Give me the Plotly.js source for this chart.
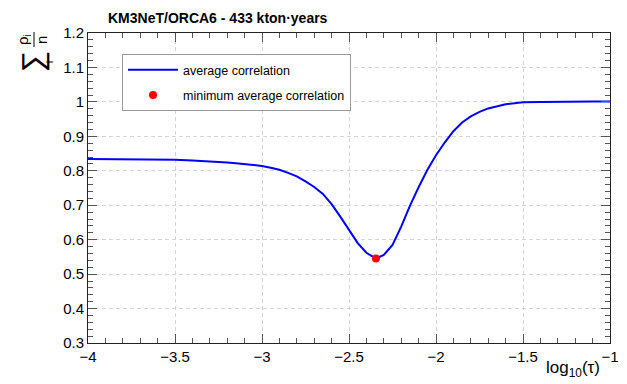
<!DOCTYPE html>
<html>
<head>
<meta charset="utf-8">
<script src="https://cdn.plot.ly/plotly-3.0.1.min.js"></script>
<style>html,body{margin:0;padding:0;background:#fff;}#chart{width:627px;height:384px;}</style>
</head>
<body>
<div id="chart"></div>
<script>
// data
const logTau = [-4.0, -3.9, -3.8, -3.7, -3.6, -3.5, -3.4, -3.35, -3.3, -3.25, -3.2, -3.15, -3.1, -3.05, -3.0, -2.95, -2.9, -2.85, -2.8, -2.75, -2.7, -2.65, -2.6, -2.55, -2.5, -2.45, -2.4, -2.345, -2.3, -2.25, -2.2, -2.15, -2.1, -2.05, -2.0, -1.95, -1.9, -1.85, -1.8, -1.75, -1.7, -1.65, -1.6, -1.55, -1.5, -1.4, -1.3, -1.2, -1.1, -1.0];
const avgCorr = [0.834, 0.834, 0.833, 0.833, 0.832, 0.832, 0.830, 0.829, 0.828, 0.826, 0.824, 0.822, 0.820, 0.817, 0.814, 0.809, 0.803, 0.794, 0.784, 0.769, 0.753, 0.733, 0.703, 0.667, 0.627, 0.590, 0.562, 0.545, 0.556, 0.585, 0.638, 0.698, 0.752, 0.802, 0.845, 0.882, 0.915, 0.940, 0.958, 0.971, 0.981, 0.988, 0.993, 0.996, 0.999, 1.000, 1.001, 1.001, 1.001, 1.001];
const minX = [-2.345];
const minY = [0.545];
const seriesNames = ["average correlation", "minimum average correlation"];
const titleText = "KM3NeT/ORCA6 - 433 kton·years";
const xTitle = "log<sub>10</sub>(τ)";

const W = 627, H = 384;
const M = {l: 88, r: 17, t: 33, b: 41};
const PW = W - M.l - M.r, PH = H - M.t - M.b;
const px = x => (x - M.l) / PW;
const py = y => (H - M.b - y) / PH;
const FONT = "Liberation Sans, Arial, Helvetica, sans-serif";

const traces = [
  {x: logTau, y: avgCorr, mode: "lines", name: seriesNames[0], legendgroup: "a",
   line: {color: "#0000ff", width: 2}},
  {x: minX, y: minY, mode: "markers", name: seriesNames[1], legendgroup: "b",
   marker: {color: "#ff0000", size: 8}}
];

const axisCommon = {
  showline: true, linecolor: "#222", linewidth: 1, mirror: "allticks",
  ticks: "inside", ticklen: 9, tickcolor: "#555", tickwidth: 1,
  showgrid: true, gridcolor: "#d4d4d4", griddash: "4px,3px", gridwidth: 1,
  zeroline: false, tickfont: {family: FONT, size: 15, color: "#000"}
};

const layout = {
  width: W, height: H, margin: M,
  paper_bgcolor: "#fff", plot_bgcolor: "#fff",
  showlegend: true,
  xaxis: Object.assign({}, axisCommon, {range: [-4, -1], dtick: 0.5, tick0: -4,
    minor: {dtick: 0.1, ticks: "inside", ticklen: 5, tickcolor: "#555", showgrid: false}}),
  yaxis: Object.assign({}, axisCommon, {range: [0.3, 1.2], dtick: 0.1, tick0: 0.3,
    minor: {dtick: 0.02, ticks: "inside", ticklen: 5, tickcolor: "#555", showgrid: false}}),
  legend: {x: px(122), y: py(54), xanchor: "left", yanchor: "top",
    bordercolor: "#999", borderwidth: 1, bgcolor: "#fff", itemwidth: 50, entrywidth: 225,
    font: {family: FONT, size: 12.5, color: "#000"}, traceorder: "grouped", tracegroupgap: 6},
  annotations: [
    {text: "<b>" + titleText + "</b>", xref: "paper", yref: "paper", x: px(106), y: py(18),
     xanchor: "left", yanchor: "middle", showarrow: false, font: {family: FONT, size: 14, color: "#000"}},
    {text: xTitle, xref: "paper", yref: "paper", x: px(602), y: py(369),
     xanchor: "right", yanchor: "middle", showarrow: false, font: {family: FONT, size: 17, color: "#000"}},
    {text: "∑", xref: "paper", yref: "paper", x: px(33), y: py(62), textangle: -90,
     xanchor: "center", yanchor: "middle", showarrow: false, font: {family: FONT, size: 30, color: "#000"}},
    {text: "i", xref: "paper", yref: "paper", x: px(50), y: py(62), textangle: -90,
     xanchor: "center", yanchor: "middle", showarrow: false, font: {family: FONT, size: 9, color: "#000"}},
    {text: "ρ<sub>i</sub>", xref: "paper", yref: "paper", x: px(23), y: py(40), textangle: -90,
     xanchor: "center", yanchor: "middle", showarrow: false, font: {family: FONT, size: 15, color: "#000"}},
    {text: "n", xref: "paper", yref: "paper", x: px(41), y: py(40), textangle: -90,
     xanchor: "center", yanchor: "middle", showarrow: false, font: {family: FONT, size: 15, color: "#000"}}
  ],
  shapes: [
    {type: "line", xref: "paper", yref: "paper", x0: px(34), x1: px(34), y0: py(32), y1: py(47),
     line: {color: "#000", width: 1}}
  ]
};

Plotly.newPlot("chart", traces, layout, {displayModeBar: false, staticPlot: true});
</script>
</body>
</html>
